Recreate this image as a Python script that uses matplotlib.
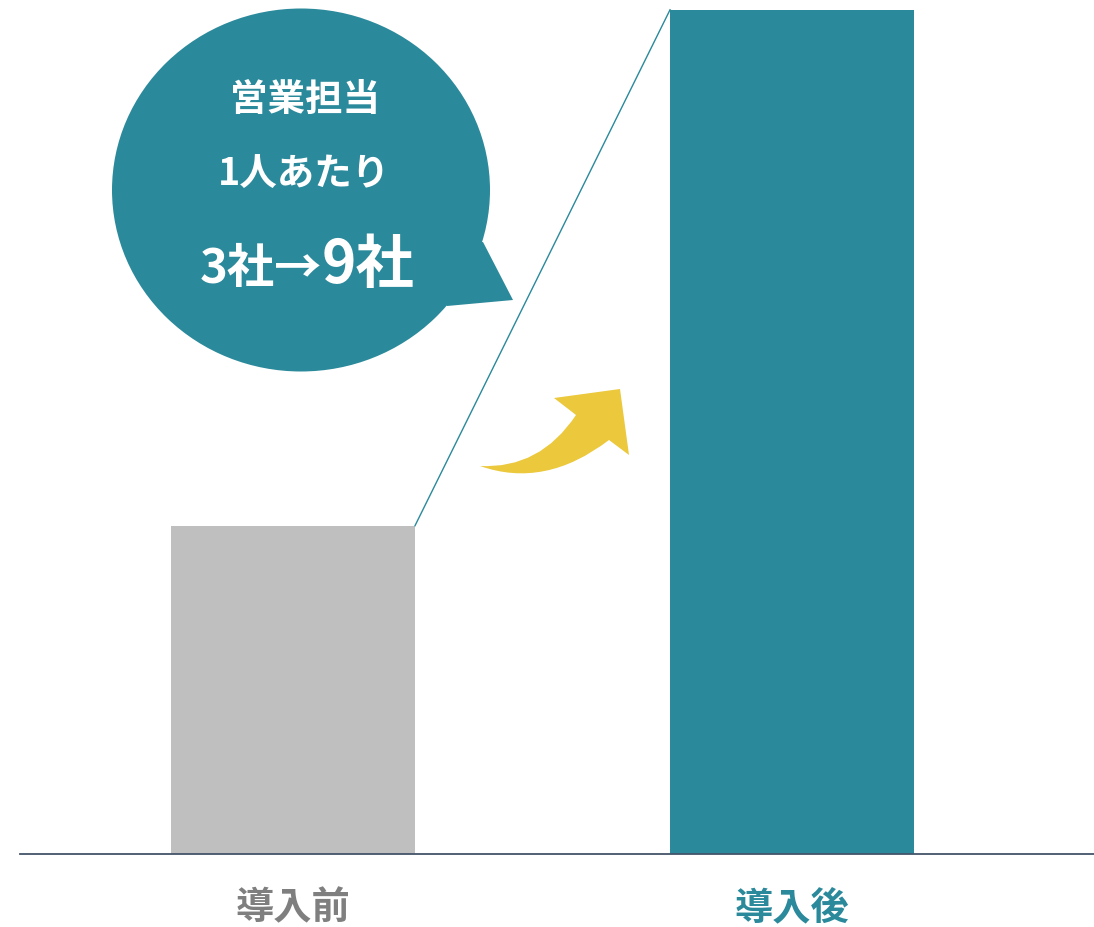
import matplotlib.pyplot as plt
from matplotlib.patches import Ellipse, Polygon, PathPatch
from matplotlib.path import Path

plt.rcParams['font.family'] = ['Noto Sans CJK JP', 'DejaVu Sans']

# データ
categories = ['導入前', '導入後']
values = [3.5, 9]
bar_colors = ['#bfbfbf', '#2a899b']
label_colors = ['#7f7f7f', '#2a899b']

bubble_lines = ['営業担当', '1人あたり']
bubble_before = '3社→'
bubble_after = '9社'

TEAL = '#2a899b'
YELLOW = '#ebc83c'

W, H = 1094, 928


def px(x, y):
    # ピクセル座標 -> axes座標
    return (x / W, 1 - y / H)


fig = plt.figure(figsize=(W / 100, H / 100), dpi=100)
ax = fig.add_axes([0, 0, 1, 1])

width = 0.489
xs = list(range(len(categories)))
ax.bar(xs, values, width=width, color=bar_colors, zorder=2)
ax.set_xlim(-0.587, 1.605)
ax.set_ylim(-0.778, 9.115)
ax.axis('off')
ax.axhline(0, xmin=20 / W, xmax=1, color='#44546a', lw=1.3, zorder=3)

# 棒の上端をつなぐ線
ax.plot([xs[0] + width / 2, xs[1] - width / 2], [values[0], values[1]],
        color=TEAL, lw=1, zorder=3)

# カテゴリラベル
for i, (cat, c) in enumerate(zip(categories, label_colors)):
    ax.text(i, 1 - 908 / H, cat, transform=ax.get_xaxis_transform(),
            ha='center', va='center', fontsize=27.5, fontweight='bold', color=c)

# 吹き出し
ax.add_patch(Ellipse(px(301, 191), 378 / W, 363 / H, transform=ax.transAxes,
                     color=TEAL, lw=0, zorder=4))
ax.add_patch(Polygon([px(483, 243), px(513, 301), px(447, 307), px(400, 250)],
                     closed=True, transform=ax.transAxes, color=TEAL, lw=0, zorder=4))

ax.text(*px(305, 99), bubble_lines[0], transform=ax.transAxes, ha='center', va='center',
        fontsize=27, fontweight='bold', color='white', zorder=5)
ax.text(*px(304, 174), bubble_lines[1], transform=ax.transAxes, ha='center', va='center',
        fontsize=27, fontweight='bold', color='white', zorder=5)
ax.text(*px(322, 283), bubble_before, transform=ax.transAxes, ha='right', va='baseline',
        fontsize=34, fontweight='bold', color='white', zorder=5)
ax.text(*px(322, 283), bubble_after, transform=ax.transAxes, ha='left', va='baseline',
        fontsize=42, fontweight='bold', color='white', zorder=5)

# 黄色の矢印
verts = [px(480, 467), px(545, 490), px(609, 441), px(629, 456), px(620, 390),
         px(554, 399), px(576, 416), px(540, 470), px(480, 467), px(480, 467)]
codes = [Path.MOVETO, Path.CURVE3, Path.CURVE3, Path.LINETO, Path.LINETO,
         Path.LINETO, Path.LINETO, Path.CURVE3, Path.CURVE3, Path.CLOSEPOLY]
ax.add_patch(PathPatch(Path(verts, codes), transform=ax.transAxes,
                       facecolor=YELLOW, lw=0, zorder=4))

fig.savefig('out.png', dpi=100)
